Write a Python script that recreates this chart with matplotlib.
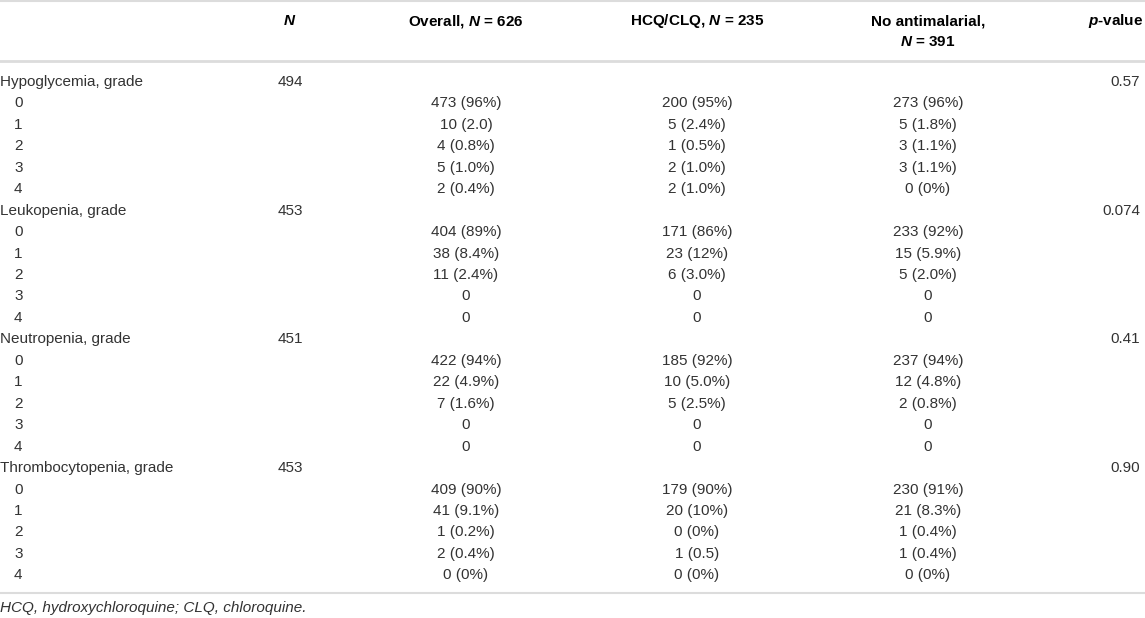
import matplotlib.pyplot as plt

plt.rcParams['font.family'] = ['Liberation Sans', 'DejaVu Sans']
# bold italic N / p in the header row
plt.rcParams['mathtext.fontset'] = 'custom'
plt.rcParams['mathtext.it'] = 'Liberation Sans:italic:bold'
plt.rcParams['mathtext.rm'] = 'Liberation Sans:bold'

groups = ['Hypoglycemia, grade', 'Leukopenia, grade', 'Neutropenia, grade',
          'Thrombocytopenia, grade']
group_n = ['494', '453', '451', '453']
p_values = ['0.57', '0.074', '0.41', '0.90']
grades = ['0', '1', '2', '3', '4']

overall = [
    ['473 (96%)', '10 (2.0)', '4 (0.8%)', '5 (1.0%)', '2 (0.4%)'],
    ['404 (89%)', '38 (8.4%)', '11 (2.4%)', '0', '0'],
    ['422 (94%)', '22 (4.9%)', '7 (1.6%)', '0', '0'],
    ['409 (90%)', '41 (9.1%)', '1 (0.2%)', '2 (0.4%)', '0 (0%)'],
]
hcq = [
    ['200 (95%)', '5 (2.4%)', '1 (0.5%)', '2 (1.0%)', '2 (1.0%)'],
    ['171 (86%)', '23 (12%)', '6 (3.0%)', '0', '0'],
    ['185 (92%)', '10 (5.0%)', '5 (2.5%)', '0', '0'],
    ['179 (90%)', '20 (10%)', '0 (0%)', '1 (0.5)', '0 (0%)'],
]
no_anti = [
    ['273 (96%)', '5 (1.8%)', '3 (1.1%)', '3 (1.1%)', '0 (0%)'],
    ['233 (92%)', '15 (5.9%)', '5 (2.0%)', '0', '0'],
    ['237 (94%)', '12 (4.8%)', '2 (0.8%)', '0', '0'],
    ['230 (91%)', '21 (8.3%)', '1 (0.4%)', '1 (0.4%)', '0 (0%)'],
]
footnote = 'HCQ, hydroxychloroquine; CLQ, chloroquine.'

W, H = 1145, 618
fig = plt.figure(figsize=(W / 100, H / 100), dpi=100)
ax = fig.add_axes([0, 0, 1, 1])
ax.set_xlim(0, W)
ax.set_ylim(H, 0)
ax.axis('off')

fs = 11
col_n, col_all, col_hcq, col_no, col_p = 290, 466, 697, 928, 1143
line_col = '#dcdcdc'
txt_col = '#333333'

ax.axhline(1, color=line_col, lw=1.5)
ax.axhline(61, color=line_col, lw=2)
ax.axhline(593, color=line_col, lw=1.5)

hdr = dict(fontsize=fs, fontweight='bold', va='center', color='black')
ax.text(col_n, 21, '$N$', ha='center', **hdr)
ax.text(col_all, 21, 'Overall, $N$ = 626', ha='center', **hdr)
ax.text(col_hcq, 21, 'HCQ/CLQ, $N$ = 235', ha='center', **hdr)
ax.text(col_no, 21, 'No antimalarial,', ha='center', **hdr)
ax.text(col_no, 42, '$N$ = 391', ha='center', **hdr)
ax.text(col_p, 21, '$p$-value', ha='right', **hdr)

y0, dy = 82, 21.45
body = dict(fontsize=fs, va='center', color=txt_col)
r = 0
for g in range(len(groups)):
    y = y0 + r * dy
    ax.text(0, y, groups[g], ha='left', **body)
    ax.text(col_n, y, group_n[g], ha='center', **body)
    ax.text(col_p - 3, y, p_values[g], ha='right', **body)
    r += 1
    for k in range(len(grades)):
        y = y0 + r * dy
        ax.text(14, y, grades[k], ha='left', **body)
        ax.text(col_all, y, overall[g][k], ha='center', **body)
        ax.text(col_hcq, y, hcq[g][k], ha='center', **body)
        ax.text(col_no, y, no_anti[g][k], ha='center', **body)
        r += 1

ax.text(0, 608, footnote, ha='left', style='italic', **body)

fig.savefig('out.png', dpi=100)
